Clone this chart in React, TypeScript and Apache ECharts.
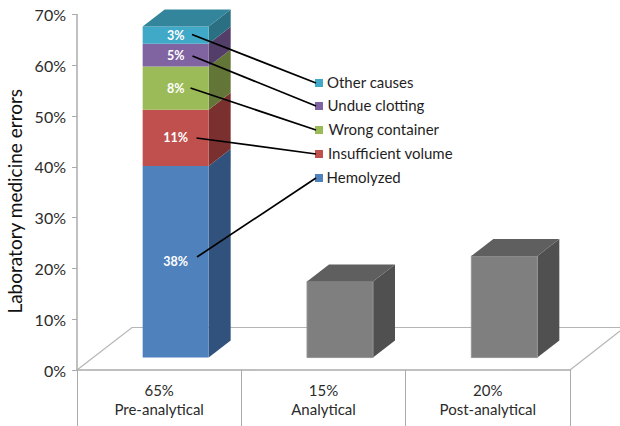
import React, { useEffect, useRef } from "react";
import * as echarts from "echarts";

const groupNames = ["Pre-analytical", "Analytical", "Post-analytical"];
const groupShares = ["65%", "15%", "20%"];
const yTicks = [0, 10, 20, 30, 40, 50, 60, 70];

const causeNames = ["Hemolyzed", "Insufficient volume", "Wrong container", "Undue clotting", "Other causes"];
const causeValues = [37.7, 11.1, 8.5, 4.5, 3.4];
const causeLabels = ["38%", "11%", "8%", "5%", "3%"];
const causeFront = ["#4f81bd", "#c0504d", "#9bbb59", "#8064a2", "#3fa9c7"];
const causeSide = ["#30527c", "#7a302e", "#637637", "#523e68", "#2b6f82"];
const causeTop = ["#3b628f", "#8f3c39", "#76893f", "#614b7c", "#33859b"];

const otherGroupValues = [15, 20];

// annotation layout (pixels)
const leaderStarts = [[197, 257], [196.5, 138], [190.5, 88], [192.5, 56], [192, 34.5]];
const markerCentres = [[319, 178], [319, 154], [319, 130], [319, 106], [319, 83]];
const legendTextX = [326.5, 328, 328.5, 327.5, 327];

const FONT = "Lato, Carlito, Calibri, sans-serif";
const TEXT = "#2b2b2b";
const AXIS = "#ababab";
const FLOOR_LIFT = 2.45; // floor front edge sits above the zero line
const BAR_W = 66;
const BAR_SHIFT = 16.5;
const DX = 22;
const DY = 17;

function boxItem(front: string, side: string, top: string | null, label: string | null, stroke: string | null) {
  return (params: any, api: any) => {
    const cat = api.value(0);
    const base = api.value(1);
    const val = api.value(2);
    const p0 = api.coord([cat, base + FLOOR_LIFT]);
    const p1 = api.coord([cat, base + val + FLOOR_LIFT]);
    const xl = p0[0] + BAR_SHIFT - BAR_W / 2;
    const xr = xl + BAR_W;
    const yb = p0[1];
    const yt = p1[1];
    const children: any[] = [
      {
        type: "polygon",
        shape: { points: [[xr, yb], [xr, yt], [xr + DX, yt - DY], [xr + DX, yb - DY]] },
        style: { fill: side },
      },
      {
        type: "rect",
        shape: { x: xl, y: yt, width: BAR_W, height: yb - yt },
        style: { fill: front, stroke: stroke ?? undefined, lineWidth: stroke ? 1 : 0 },
      },
    ];
    if (top) {
      children.push({
        type: "polygon",
        shape: { points: [[xl, yt], [xr, yt], [xr + DX, yt - DY], [xl + DX, yt - DY]] },
        style: { fill: top },
      });
    }
    if (label) {
      children.push({
        type: "text",
        style: {
          text: label,
          x: (xl + xr) / 2,
          y: (yt + yb) / 2,
          align: "center",
          verticalAlign: "middle",
          fill: "#ffffff",
          font: `bold 12.5px ${FONT}`,
        },
      });
    }
    return { type: "group", children };
  };
}

function buildOption() {
  const series: any[] = [];
  let base = 0;
  causeNames.forEach((name, i) => {
    const isTop = i === causeNames.length - 1;
    series.push({
      type: "custom",
      name,
      data: [[0, base, causeValues[i]]],
      renderItem: boxItem(causeFront[i], causeSide[i], isTop ? causeTop[i] : null, causeLabels[i], null),
      encode: { x: 0, y: 2 },
      silent: true,
    });
    base += causeValues[i];
  });
  otherGroupValues.forEach((v, i) => {
    series.push({
      type: "custom",
      name: groupNames[i + 1],
      data: [[i + 1, 0, v]],
      renderItem: boxItem("#7f7f7f", "#505050", "#5f5f5f", null, "#969696"),
      encode: { x: 0, y: 2 },
      silent: true,
    });
  });

  const graphic: any[] = [
    {
      type: "polyline",
      z: 0,
      shape: { points: [[77, 370], [132, 327.5], [620, 327.5]] },
      style: { stroke: "#b5b5b5", lineWidth: 1.2, fill: "none" },
    },
    {
      type: "line",
      z: 0,
      shape: { x1: 570, y1: 370, x2: 620, y2: 331 },
      style: { stroke: "#b5b5b5", lineWidth: 1.2 },
    },
  ];
  causeNames.forEach((name, i) => {
    const [sx, sy] = leaderStarts[i];
    const [mx, my] = markerCentres[i];
    graphic.push({
      type: "rect",
      z: 100,
      shape: { x: mx - 4, y: my - 4, width: 8, height: 8 },
      style: { fill: causeFront[i] },
    });
    graphic.push({
      type: "line",
      z: 101,
      shape: { x1: sx, y1: sy, x2: mx - 3, y2: my },
      style: { stroke: "#000000", lineWidth: 1.7 },
    });
    graphic.push({
      type: "text",
      z: 101,
      style: {
        text: name,
        x: legendTextX[i],
        y: my - 1,
        verticalAlign: "middle",
        fill: "#1f1f1f",
        font: `15px ${FONT}`,
      },
    });
  });

  return {
    animation: false,
    backgroundColor: "#ffffff",
    grid: { left: 77, top: 14.5, width: 493, height: 355.5, containLabel: false, outerBoundsMode: "none" },
    xAxis: {
      type: "category",
      data: groupNames.map((n, i) => `${groupShares[i]}\n${n}`),
      axisLine: { show: true, lineStyle: { color: AXIS, width: 1.5 } },
      axisTick: { show: true, length: 56, lineStyle: { color: AXIS, width: 1 } },
      axisLabel: { color: TEXT, fontFamily: FONT, fontSize: 15, lineHeight: 19, margin: 10, interval: 0 },
      splitLine: { show: false },
    },
    yAxis: {
      type: "value",
      min: yTicks[0],
      max: yTicks[yTicks.length - 1],
      interval: 10,
      name: "Laboratory medicine errors",
      nameLocation: "middle",
      nameGap: 53,
      nameTextStyle: { color: "#111111", fontFamily: FONT, fontSize: 19, padding: [0, 18, 0, 0] },
      axisLine: { show: true, lineStyle: { color: AXIS, width: 1.5 } },
      axisTick: { show: true, length: 5, lineStyle: { color: AXIS, width: 1 } },
      axisLabel: { color: TEXT, fontFamily: FONT, fontSize: 16, margin: 11, formatter: "{value}%" },
      splitLine: { show: false },
    },
    series,
    graphic: { elements: graphic },
  };
}

export default function App() {
  const ref = useRef<HTMLDivElement>(null);
  useEffect(() => {
    if (!ref.current) return;
    const chart = echarts.init(ref.current, undefined, { renderer: "svg" });
    chart.setOption(buildOption() as any);
    return () => chart.dispose();
  }, []);
  return <div ref={ref} style={{ position: "absolute", left: 0, top: 0, width: 620, height: 426 }} />;
}
